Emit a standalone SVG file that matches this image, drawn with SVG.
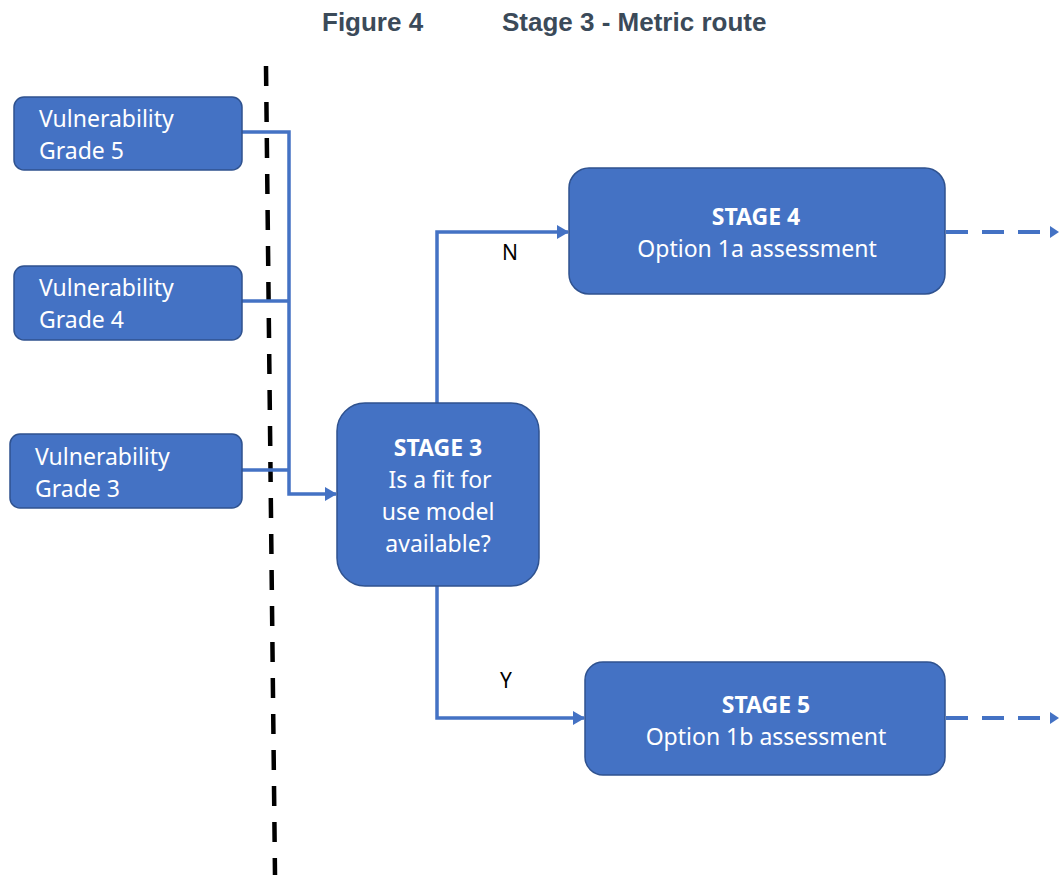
<svg xmlns="http://www.w3.org/2000/svg" width="1059" height="888" viewBox="0 0 1059 888">
<defs>
<style>
.box{fill:#4472c4;stroke:#2f528f;stroke-width:1.5}
.t{font-family:"Noto Sans","Open Sans",sans-serif;font-size:23px;fill:#ffffff}
.b{font-weight:bold}
.c{text-anchor:middle}
.ln{fill:none;stroke:#4472c4;stroke-width:3.5}
.dl{fill:none;stroke:#4472c4;stroke-width:4;stroke-dasharray:22 14}
.lab{font-family:"Noto Sans","Open Sans",sans-serif;font-size:21px;fill:#000000}
.title{font-family:"Liberation Sans",Arial,sans-serif;font-size:26px;font-weight:bold;fill:#3b4a59}
</style>
<marker id="ah2" markerWidth="12" markerHeight="14" refX="11" refY="7" orient="auto" markerUnits="userSpaceOnUse" viewBox="0 0 12 14">
<path d="M0,0 L12,7 L0,14 z" fill="#4472c4"/>
</marker>
</defs>
<rect width="1059" height="888" fill="#ffffff"/>
<text class="title" x="322" y="31">Figure 4</text>
<text class="title" x="502" y="31">Stage 3 - Metric route</text>

<line x1="266" y1="66" x2="275" y2="875" stroke="#000000" stroke-width="4.5" stroke-dasharray="20 16"/>

<g id="connectors">
<polyline class="ln" points="242,132 289,132 289,494 336,494" marker-end="url(#ah2)"/>
<line class="ln" x1="242" y1="301" x2="289" y2="301"/>
<line class="ln" x1="242" y1="470" x2="289" y2="470"/>
<polyline class="ln" points="437,403 437,232 568,232" marker-end="url(#ah2)"/>
<polyline class="ln" points="437,586 437,718 584,718" marker-end="url(#ah2)"/>
<line class="dl" x1="946" y1="232" x2="1050" y2="232"/>
<path d="M1050,226 L1059,232 L1050,238 z" fill="#4472c4"/>
<line class="dl" x1="946" y1="718" x2="1050" y2="718"/>
<path d="M1050,712 L1059,718 L1050,724 z" fill="#4472c4"/>
<text class="lab" x="502" y="260">N</text>
<text class="lab" x="500" y="688">Y</text>
</g>

<g id="v5">
<rect class="box" x="14" y="97" width="228" height="73" rx="10"/>
<text class="t" x="39" y="127">Vulnerability</text>
<text class="t" x="39" y="159">Grade 5</text>
</g>
<g id="v4">
<rect class="box" x="14" y="266" width="228" height="74" rx="10"/>
<text class="t" x="39" y="296">Vulnerability</text>
<text class="t" x="39" y="328">Grade 4</text>
</g>
<g id="v3">
<rect class="box" x="10" y="434" width="232" height="74" rx="10"/>
<text class="t" x="35" y="465">Vulnerability</text>
<text class="t" x="35" y="497">Grade 3</text>
</g>
<g id="stage3">
<rect class="box" x="337" y="403" width="202" height="183" rx="28"/>
<text class="t b c" x="438" y="456">STAGE 3</text>
<text class="t c" x="440" y="488">Is a fit for</text>
<text class="t c" x="438" y="520">use model</text>
<text class="t c" x="438" y="552">available?</text>
</g>
<g id="stage4">
<rect class="box" x="569" y="168" width="376" height="126" rx="20"/>
<text class="t b c" x="756" y="225">STAGE 4</text>
<text class="t c" x="757" y="257">Option 1a assessment</text>
</g>
<g id="stage5">
<rect class="box" x="585" y="662" width="360" height="113" rx="18"/>
<text class="t b c" x="766" y="713">STAGE 5</text>
<text class="t c" x="766" y="745">Option 1b assessment</text>
</g>
</svg>
